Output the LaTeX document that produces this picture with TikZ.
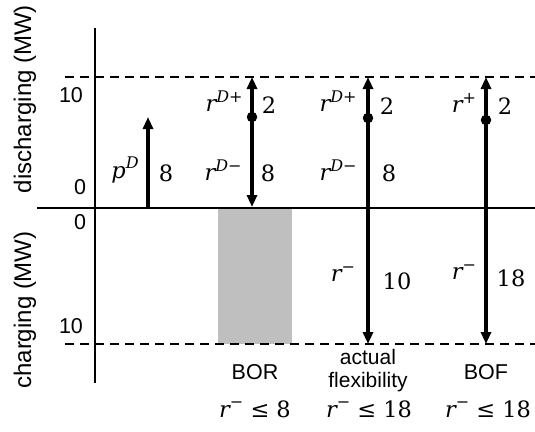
\documentclass[tikz,border=0pt]{standalone}
\usepackage{fontspec}
\setmainfont{Liberation Sans}
\newfontfamily\mf{DejaVu Serif}
\usetikzlibrary{arrows.meta}
\newcommand\varsup[2]{{\mf\itshape #1}\raisebox{0.42em}{\fontsize{16}{18}\selectfont\mf #2}}
\tikzset{
  axis/.style={line width=2.8pt},
  dashline/.style={line width=2.6pt, dash pattern=on 9pt off 6pt},
  arr/.style={line width=3.4pt, -{Triangle[length=12pt,width=10pt]}},
  dotnode/.style={circle, fill=black, inner sep=0pt, minimum size=10.5pt},
  lbl/.style={inner sep=0pt, font=\fontsize{21.5}{25}\selectfont},
  mlbl/.style={inner sep=0pt, font=\fontsize{22.5}{26}\selectfont\mf},
  small/.style={inner sep=0pt, font=\fontsize{21}{23}\selectfont, align=center},
  axlbl/.style={inner sep=0pt, rotate=90, font=\fontsize{24}{28}\selectfont}
}
\begin{document}
\begin{tikzpicture}[x=1pt,y=-1pt]
\useasboundingbox (0,0) rectangle (535,431);
% shaded BOR region
\fill[black!25] (218,209) rectangle (292,344);
% axes
\coordinate (hL) at (37,208); \coordinate (hR) at (535,208);
\coordinate (vT) at (95,28); \coordinate (vB) at (95,383);
\draw[axis] (hL) -- (hR);
\draw[axis] (vT) -- (vB);
% dashed limits
\coordinate (dtL) at (65,77); \coordinate (dtR) at (535,77);
\coordinate (dbL) at (65,344); \coordinate (dbR) at (535,344);
\draw[dashline] (dtL) -- (dtR);
\draw[dashline] (dbL) -- (dbR);
% axis labels
\node[axlbl] (dis) at (25,99) {discharging (MW)};
\node[axlbl] (chg) at (25,310) {charging (MW)};
\node[lbl] (t10a) at (71,95) {10};
\node[lbl] (t0a) at (80,187) {0};
\node[lbl] (t0b) at (80,222) {0};
\node[lbl] (t10b) at (71,326) {10};
% p^D arrow
\coordinate (pb) at (148,207); \coordinate (pt) at (148,117);
\draw[arr] (pb) -- (pt);
\node[mlbl] (pD) at (125,170) {\varsup{p}{\itshape D}};
\node[mlbl] (p8) at (166,173) {8};
% BOR column
\node[dotnode] (d1) at (252,117) {};
\coordinate (t1) at (252,77); \coordinate (b1) at (252,207);
\draw[arr] (d1.center) -- (t1);
\draw[arr] (d1.center) -- (b1);
\node[mlbl] (a1) at (224,101) {\varsup{r}{{\itshape D}+}};
\node[mlbl] (a2) at (269,105) {2};
\node[mlbl] (a3) at (223,170) {\varsup{r}{{\itshape D}−}};
\node[mlbl] (a4) at (268,173) {8};
% actual flexibility column
\node[dotnode] (d2) at (368,118) {};
\coordinate (t2) at (368,77); \coordinate (b2) at (368,344);
\draw[arr] (d2.center) -- (t2);
\draw[arr] (d2.center) -- (b2);
\node[mlbl] (c1) at (338,101) {\varsup{r}{{\itshape D}+}};
\node[mlbl] (c2) at (387,106) {2};
\node[mlbl] (c3) at (338,170) {\varsup{r}{{\itshape D}−}};
\node[mlbl] (c4) at (389,173) {8};
\node[mlbl] (c5) at (343,274) {\varsup{r}{−}};
\node[mlbl] (c6) at (397,281) {10};
% BOF column
\node[dotnode] (d3) at (486,120) {};
\coordinate (t3) at (486,77); \coordinate (b3) at (486,344);
\draw[arr] (d3.center) -- (t3);
\draw[arr] (d3.center) -- (b3);
\node[mlbl] (e1) at (464,103) {\varsup{r}{+}};
\node[mlbl] (e2) at (505,106) {2};
\node[mlbl] (e3) at (464,272) {\varsup{r}{−}};
\node[mlbl] (e4) at (511,278) {18};
% bottom labels
\node[lbl] (bor) at (255,372) {BOR};
\node[small] (act) at (368,371) {actual\\flexibility};
\node[lbl] (bof) at (486,372) {BOF};
\node[mlbl] (q1) at (255,409) {\varsup{r}{−} ≤ 8};
\node[mlbl] (q2) at (369,409) {\varsup{r}{−} ≤ 18};
\node[mlbl] (q3) at (488,409) {\varsup{r}{−} ≤ 18};
\end{tikzpicture}
\end{document}
